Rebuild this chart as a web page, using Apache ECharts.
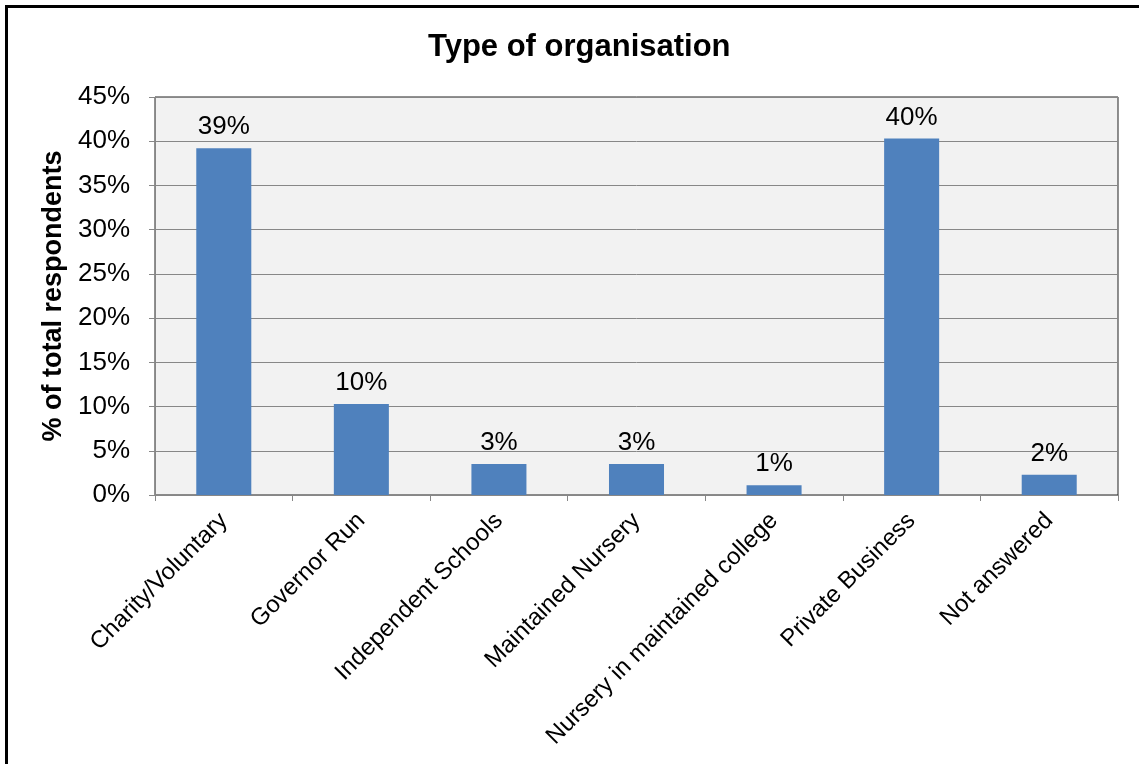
<!DOCTYPE html>
<html><head><meta charset="utf-8">
<script src="https://cdn.jsdelivr.net/npm/echarts@6/dist/echarts.min.js"></script>
<style>
html,body{margin:0;padding:0;background:#fff;}
#frame{position:absolute;left:5px;top:5px;width:1200px;height:800px;border-left:3px solid #000;border-top:3px solid #000;box-sizing:border-box;}
#c{position:absolute;left:0;top:0;width:1139px;height:764px;}
</style></head>
<body>
<div id="frame"></div>
<div id="c"></div>
<script>
const categories = ["Charity/Voluntary","Governor Run","Independent Schools","Maintained Nursery","Nursery in maintained college","Private Business","Not answered"];
const values = [39.2, 10.3, 3.5, 3.5, 1.1, 40.3, 2.3];
const labels = ["39%","10%","3%","3%","1%","40%","2%"];
const yTicks = [0,5,10,15,20,25,30,35,40,45];

const chart = echarts.init(document.getElementById('c'));
const font = 'Liberation Sans, Arial, sans-serif';
chart.setOption({
  animation:false,
  backgroundColor:'transparent',
  title:{text:'Type of organisation',left:423,top:27,
    textStyle:{fontFamily:font,fontSize:31,fontWeight:'bold',color:'#000'}},
  grid:{left:155,right:21,top:97,bottom:269,show:true,backgroundColor:'#f2f2f2',borderColor:'#222',borderWidth:1},
  xAxis:{type:'category',data:categories,
    axisLine:{lineStyle:{color:'#878787'}},
    axisTick:{show:true,length:6,lineStyle:{color:'#878787'}},
    axisLabel:{rotate:45,margin:22,fontFamily:font,fontSize:24,color:'#000',interval:0}},
  yAxis:{type:'value',min:0,max:45,interval:5,
    name:'% of total respondents',nameLocation:'middle',nameGap:81,nameRotate:90,
    nameTextStyle:{fontFamily:font,fontSize:27,fontWeight:'bold',color:'#000'},
    axisLine:{show:true,lineStyle:{color:'#878787'}},
    axisTick:{show:true,length:6,lineStyle:{color:'#878787'}},
    splitLine:{lineStyle:{color:'#878787',width:1}},
    axisLabel:{margin:25,fontFamily:font,fontSize:26,color:'#000',
      formatter:v=>yTicks.includes(v)?v+'%':''}},
  series:[{type:'bar',data:values,barWidth:'40%',
    itemStyle:{color:'#4f81bd'},
    label:{show:true,position:'top',distance:8,fontFamily:font,fontSize:26,color:'#000',
      formatter:p=>labels[p.dataIndex]}}]
});
</script>
</body></html>
